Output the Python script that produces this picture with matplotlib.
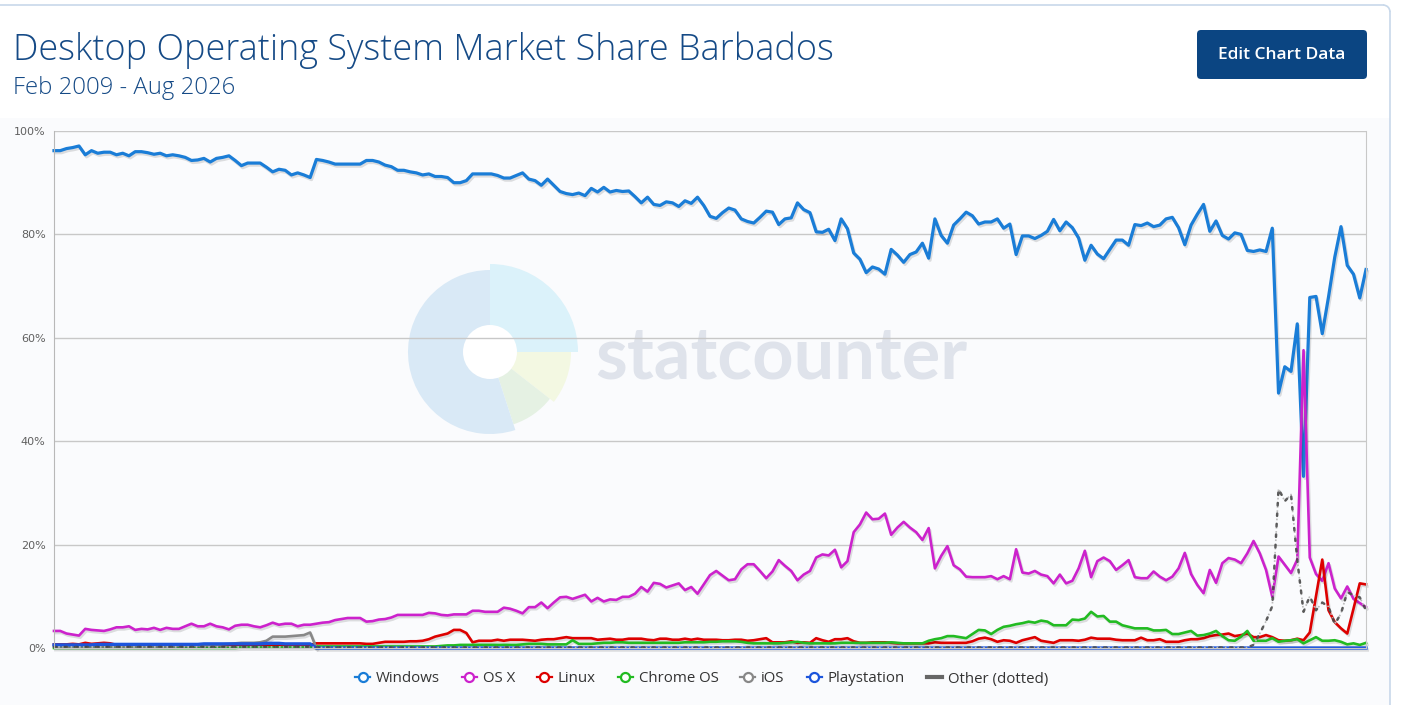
import numpy as np
import matplotlib
matplotlib.use("Agg")
import matplotlib.pyplot as plt
import matplotlib.patheffects as pe
from matplotlib.patches import Wedge, Circle, FancyBboxPatch, Rectangle, Arc
from matplotlib.lines import Line2D

# monthly share (%), Feb 2009 .. Aug 2026  (211 months)
windows = [
    96.2, 96.2, 96.6, 96.8, 97.1, 95.4, 96.2, 95.7, 95.9, 95.9,
    95.4, 95.7, 95.2, 96.0, 96.0, 95.8, 95.5, 95.7, 95.2, 95.4,
    95.2, 94.9, 94.3, 94.4, 94.7, 94.0, 94.7, 94.9, 95.2, 94.3,
    93.3, 93.8, 93.8, 93.8, 93.0, 92.1, 92.6, 92.4, 91.5, 91.9,
    91.5, 91.0, 94.5, 94.3, 94.0, 93.6, 93.6, 93.6, 93.6, 93.6,
    94.3, 94.3, 94.0, 93.4, 93.1, 92.4, 92.4, 92.1, 91.9, 91.5,
    91.7, 91.2, 91.2, 91.0, 90.0, 90.0, 90.4, 91.7, 91.7, 91.7,
    91.7, 91.4, 90.9, 90.9, 91.4, 91.9, 90.7, 90.4, 89.5, 90.7,
    89.5, 88.3, 87.9, 87.7, 88.0, 87.5, 88.9, 88.2, 89.1, 88.2,
    88.5, 88.3, 88.4, 87.3, 86.1, 87.2, 85.8, 85.6, 86.3, 86.1,
    85.4, 86.5, 86.0, 87.2, 85.6, 83.5, 83.1, 84.2, 85.1, 84.7,
    83.0, 82.5, 82.2, 83.3, 84.5, 84.3, 81.9, 83.0, 83.2, 86.1,
    84.8, 84.2, 80.5, 80.4, 81.0, 78.8, 83.0, 81.1, 76.4, 75.2,
    72.6, 73.7, 73.3, 72.3, 77.1, 76.0, 74.6, 76.1, 76.6, 78.3,
    75.4, 83.0, 79.8, 78.3, 81.8, 83.0, 84.3, 83.6, 82.0, 82.4,
    82.4, 83.0, 81.2, 82.0, 76.1, 79.7, 79.7, 79.2, 79.8, 80.6,
    82.9, 80.7, 82.4, 81.3, 79.3, 75.0, 77.9, 76.2, 75.3, 77.1,
    78.9, 78.9, 77.9, 81.9, 81.7, 82.2, 81.5, 81.8, 83.0, 83.3,
    81.3, 78.0, 81.8, 83.9, 85.8, 80.6, 82.6, 79.8, 79.1, 80.3,
    80.0, 76.9, 76.7, 77.0, 76.7, 81.2, 49.3, 54.4, 53.5, 62.7,
    33.2, 67.8, 68.0, 60.8, 67.9, 75.6, 81.5, 74.0, 72.3, 67.7,
    73.2,
]

osx = [
    3.3, 3.3, 2.8, 2.6, 2.4, 3.7, 3.5, 3.4, 3.3, 3.6,
    4.0, 4.0, 4.2, 3.5, 3.7, 3.6, 3.9, 3.5, 3.9, 3.7,
    3.7, 4.2, 4.7, 4.2, 4.2, 4.7, 4.2, 4.0, 3.6, 4.3,
    4.5, 4.5, 4.2, 4.0, 4.4, 4.9, 4.5, 4.7, 4.7, 4.2,
    4.5, 4.5, 4.7, 4.9, 5.0, 5.4, 5.6, 5.8, 5.8, 5.8,
    5.1, 5.2, 5.5, 5.6, 5.9, 6.4, 6.4, 6.4, 6.4, 6.4,
    6.8, 6.7, 6.4, 6.3, 6.5, 6.5, 6.5, 7.2, 7.2, 7.0,
    7.0, 7.0, 7.8, 7.6, 7.2, 6.7, 7.9, 7.9, 8.8, 7.7,
    8.8, 9.8, 9.9, 9.5, 9.9, 10.3, 9.0, 9.7, 9.0, 9.4,
    9.3, 9.9, 9.9, 10.5, 11.8, 10.9, 12.6, 12.4, 11.7, 12.1,
    12.5, 11.2, 11.8, 10.5, 12.3, 14.1, 14.9, 14.0, 13.1, 13.3,
    15.2, 16.2, 16.2, 14.9, 13.5, 14.8, 17.0, 15.9, 14.9, 13.1,
    14.2, 14.9, 17.5, 18.1, 17.9, 19.0, 15.6, 16.8, 22.4, 23.9,
    26.2, 24.9, 25.0, 26.0, 21.9, 23.3, 24.4, 23.3, 22.4, 20.9,
    23.2, 15.4, 17.8, 19.7, 16.0, 15.2, 13.8, 13.7, 13.7, 13.7,
    13.9, 13.3, 13.9, 13.3, 19.1, 14.6, 14.4, 14.9, 14.2, 13.9,
    12.5, 14.2, 12.5, 13.0, 15.4, 18.8, 13.7, 16.8, 17.5, 16.8,
    15.1, 16.0, 17.0, 13.7, 13.5, 13.5, 14.8, 13.8, 13.1, 13.8,
    15.4, 18.4, 14.3, 12.2, 10.6, 15.1, 12.6, 16.4, 17.4, 17.1,
    16.4, 18.3, 20.7, 18.3, 15.1, 9.9, 17.7, 16.1, 14.5, 17.1,
    57.6, 17.5, 14.3, 13.0, 16.4, 11.5, 9.6, 11.9, 9.5, 8.7,
    7.9,
]

linux = [
    0.7, 0.7, 0.7, 0.8, 0.7, 1.0, 0.8, 0.9, 1.0, 0.9,
    0.6, 0.6, 0.5, 0.6, 0.6, 0.6, 0.5, 0.6, 0.6, 0.6,
    0.5, 0.6, 0.6, 0.6, 0.5, 0.6, 0.6, 0.5, 0.6, 0.6,
    0.6, 0.5, 0.6, 0.6, 0.6, 0.5, 0.6, 0.6, 0.6, 0.5,
    0.6, 0.6, 0.9, 0.9, 0.9, 0.9, 0.9, 0.9, 0.9, 0.9,
    0.8, 0.8, 1.0, 1.2, 1.2, 1.2, 1.2, 1.3, 1.3, 1.4,
    1.7, 2.2, 2.5, 2.8, 3.5, 3.5, 2.9, 1.1, 1.4, 1.4,
    1.4, 1.6, 1.4, 1.6, 1.6, 1.6, 1.5, 1.4, 1.6, 1.7,
    1.7, 1.9, 2.1, 1.9, 1.9, 1.9, 1.9, 1.6, 1.7, 1.8,
    1.6, 1.6, 1.8, 1.8, 1.8, 1.6, 1.5, 1.8, 1.8, 1.6,
    1.6, 1.8, 1.6, 1.8, 1.6, 1.6, 1.6, 1.5, 1.5, 1.6,
    1.6, 1.4, 1.5, 1.7, 1.9, 1.1, 1.1, 1.1, 1.3, 1.0,
    1.1, 1.0, 1.9, 1.5, 1.2, 1.7, 1.7, 1.9, 1.3, 1.0,
    1.0, 1.1, 1.1, 1.1, 1.0, 0.9, 0.9, 0.9, 0.9, 0.9,
    0.9, 1.1, 1.0, 1.0, 1.0, 1.0, 1.0, 1.3, 1.8, 2.0,
    1.7, 1.2, 1.5, 1.4, 1.0, 1.5, 1.8, 2.1, 1.4, 1.2,
    1.0, 1.5, 1.5, 1.5, 1.4, 1.6, 2.0, 1.8, 1.8, 1.8,
    1.6, 1.5, 1.5, 1.5, 2.0, 1.5, 1.5, 1.7, 1.2, 1.2,
    1.2, 1.5, 1.7, 1.7, 1.9, 2.3, 2.5, 2.6, 2.8, 2.3,
    2.5, 2.8, 2.1, 2.1, 2.5, 2.1, 1.5, 1.4, 1.5, 1.8,
    1.5, 3.0, 10.0, 17.1, 7.3, 5.0, 3.8, 2.8, 7.6, 12.5,
    12.3,
]

chrome_os = [
    0.0, 0.0, 0.0, 0.0, 0.0, 0.0, 0.0, 0.0, 0.0, 0.0,
    0.0, 0.0, 0.0, 0.0, 0.0, 0.0, 0.0, 0.0, 0.0, 0.0,
    0.0, 0.0, 0.0, 0.0, 0.0, 0.0, 0.0, 0.0, 0.0, 0.0,
    0.1, 0.1, 0.1, 0.1, 0.1, 0.1, 0.1, 0.1, 0.1, 0.1,
    0.1, 0.1, 0.3, 0.3, 0.3, 0.3, 0.3, 0.3, 0.3, 0.3,
    0.3, 0.3, 0.3, 0.3, 0.3, 0.3, 0.3, 0.3, 0.3, 0.3,
    0.3, 0.3, 0.4, 0.5, 0.5, 0.6, 0.6, 0.6, 0.6, 0.6,
    0.6, 0.6, 0.6, 0.6, 0.6, 0.7, 0.8, 0.8, 0.8, 0.7,
    0.7, 0.7, 0.7, 1.5, 0.8, 0.8, 0.8, 0.9, 1.0, 1.0,
    1.1, 1.1, 1.0, 1.0, 1.0, 1.0, 1.0, 1.0, 1.0, 1.0,
    1.0, 1.1, 1.1, 1.1, 1.1, 1.2, 1.2, 1.3, 1.3, 1.3,
    1.2, 1.0, 0.9, 0.9, 0.9, 0.9, 0.9, 1.0, 1.1, 1.2,
    1.0, 0.9, 0.9, 0.9, 0.9, 0.9, 1.0, 1.0, 1.0, 1.0,
    1.0, 1.0, 1.0, 1.0, 1.1, 1.0, 0.9, 0.9, 0.9, 0.9,
    1.4, 1.7, 1.9, 2.3, 2.3, 2.1, 1.9, 2.7, 3.5, 3.4,
    2.7, 3.5, 4.1, 4.3, 4.6, 4.8, 5.1, 4.9, 5.3, 5.1,
    4.4, 4.4, 4.4, 5.5, 5.4, 5.7, 7.0, 6.1, 6.2, 5.1,
    5.1, 4.4, 4.1, 3.8, 3.8, 3.8, 3.4, 3.4, 3.5, 2.7,
    2.7, 3.0, 3.3, 2.4, 2.5, 2.8, 3.3, 2.3, 1.5, 1.4,
    2.2, 3.3, 1.4, 1.4, 1.4, 1.9, 1.2, 1.4, 1.5, 1.7,
    0.9, 1.5, 2.1, 1.4, 1.4, 1.5, 1.2, 0.7, 0.9, 0.6,
    1.0,
]

ios = [
    0.3, 0.3, 0.3, 0.3, 0.3, 0.3, 0.3, 0.3, 0.3, 0.3,
    0.3, 0.3, 0.3, 0.3, 0.3, 0.3, 0.3, 0.3, 0.3, 0.3,
    0.4, 0.4, 0.4, 0.4, 0.5, 0.5, 0.6, 0.7, 0.8, 0.9,
    1.0, 1.0, 1.0, 1.1, 1.4, 2.2, 2.2, 2.2, 2.3, 2.4,
    2.5, 3.0, 0.0,
]

playstation = [
    0.6, 0.6, 0.6, 0.6, 0.6, 0.6, 0.6, 0.7, 0.7, 0.7,
    0.7, 0.7, 0.7, 0.7, 0.7, 0.7, 0.7, 0.7, 0.7, 0.7,
    0.7, 0.7, 0.7, 0.7, 0.8, 0.8, 0.8, 0.8, 0.8, 0.8,
    0.8, 0.8, 0.8, 0.8, 0.9, 0.9, 0.9, 0.8, 0.8, 0.8,
    0.8, 0.8, 0.0, 0.0, 0.0, 0.0, 0.0, 0.0, 0.0, 0.0,
    0.0, 0.0, 0.0, 0.0, 0.0, 0.0, 0.0, 0.0, 0.0, 0.0,
    0.0, 0.0, 0.0, 0.0, 0.0, 0.0, 0.0, 0.0, 0.0, 0.0,
    0.0, 0.0, 0.0, 0.0, 0.0, 0.0, 0.0, 0.0, 0.0, 0.0,
    0.0, 0.0, 0.0, 0.0, 0.0, 0.0, 0.0, 0.0, 0.0, 0.0,
    0.0, 0.0, 0.0, 0.0, 0.0, 0.0, 0.0, 0.0, 0.0, 0.0,
    0.0, 0.0, 0.0, 0.0, 0.0, 0.0, 0.0, 0.0, 0.0, 0.0,
    0.0, 0.0, 0.0, 0.0, 0.0, 0.0, 0.0, 0.0, 0.0, 0.0,
    0.0, 0.0, 0.0, 0.0, 0.0, 0.0, 0.0, 0.0, 0.0, 0.0,
    0.0, 0.0, 0.0, 0.0, 0.0, 0.0, 0.0, 0.0, 0.0, 0.0,
    0.0, 0.0, 0.0, 0.0, 0.0, 0.0, 0.0, 0.0, 0.0, 0.0,
    0.0, 0.0, 0.0, 0.0, 0.0, 0.0, 0.0, 0.0, 0.0, 0.0,
    0.0, 0.0, 0.0, 0.0, 0.0, 0.0, 0.0, 0.0, 0.0, 0.0,
    0.0, 0.0, 0.0, 0.0, 0.0, 0.0, 0.0, 0.0, 0.0, 0.0,
    0.0, 0.0, 0.0, 0.0, 0.0, 0.0, 0.0, 0.0, 0.0, 0.0,
    0.0, 0.0, 0.0, 0.0, 0.0, 0.0, 0.0, 0.0, 0.0, 0.0,
    0.0, 0.0, 0.0, 0.0, 0.0, 0.0, 0.0, 0.0, 0.0, 0.0,
    0.0,
]

other = [
    0.2, 0.2, 0.2, 0.2, 0.2, 0.2, 0.2, 0.2, 0.2, 0.2,
    0.2, 0.2, 0.2, 0.2, 0.2, 0.2, 0.2, 0.2, 0.2, 0.2,
    0.2, 0.2, 0.2, 0.2, 0.2, 0.2, 0.2, 0.2, 0.2, 0.2,
    0.2, 0.2, 0.2, 0.2, 0.2, 0.2, 0.2, 0.2, 0.2, 0.2,
    0.2, 0.2, 0.1, 0.1, 0.1, 0.1, 0.1, 0.1, 0.1, 0.1,
    0.1, 0.1, 0.1, 0.1, 0.1, 0.1, 0.1, 0.1, 0.1, 0.1,
    0.1, 0.1, 0.1, 0.1, 0.1, 0.1, 0.1, 0.1, 0.1, 0.1,
    0.1, 0.1, 0.1, 0.1, 0.1, 0.1, 0.1, 0.1, 0.1, 0.1,
    0.1, 0.1, 0.1, 0.1, 0.1, 0.1, 0.1, 0.1, 0.1, 0.1,
    0.1, 0.1, 0.1, 0.1, 0.1, 0.1, 0.1, 0.1, 0.1, 0.1,
    0.1, 0.1, 0.1, 0.1, 0.1, 0.1, 0.1, 0.1, 0.1, 0.1,
    0.1, 0.1, 0.1, 0.1, 0.1, 0.1, 0.1, 0.1, 0.1, 0.1,
    0.1, 0.1, 0.1, 0.1, 0.1, 0.1, 0.1, 0.1, 0.1, 0.1,
    0.1, 0.1, 0.1, 0.1, 0.1, 0.1, 0.1, 0.1, 0.1, 0.1,
    0.1, 0.1, 0.1, 0.1, 0.1, 0.1, 0.1, 0.1, 0.1, 0.1,
    0.1, 0.1, 0.1, 0.1, 0.1, 0.1, 0.1, 0.1, 0.1, 0.1,
    0.1, 0.1, 0.1, 0.1, 0.1, 0.1, 0.1, 0.1, 0.1, 0.1,
    0.1, 0.1, 0.1, 0.1, 0.1, 0.1, 0.1, 0.1, 0.1, 0.1,
    0.1, 0.1, 0.1, 0.1, 0.1, 0.1, 0.1, 0.1, 0.1, 0.1,
    0.1, 0.1, 0.6, 2.8, 5.2, 8.1, 30.8, 28.4, 29.7, 17.0,
    7.0, 10.0, 7.3, 8.8, 8.0, 4.6, 6.7, 10.8, 10.2, 9.8,
    7.3,
]

series_names = ["Windows", "OS X", "Linux", "Chrome OS", "iOS", "Playstation", "Other (dotted)"]
colors = ["#1a7dd7", "#cc22cc", "#dd0000", "#22bb22", "#888888", "#1c55dc", "#555555"]
y_ticks = [0, 20, 40, 60, 80, 100]

W, H = 1403, 705
fig = plt.figure(figsize=(W / 100, H / 100), dpi=100)
fig.patch.set_facecolor("white")

# background layer in pixel coordinates (y measured from the top)
bg = fig.add_axes([0, 0, 1, 1], zorder=0)
bg.set_xlim(0, W)
bg.set_ylim(0, H)
bg.axis("off")
py = lambda y: H - y

bg.add_patch(Rectangle((0, 0), 1390, py(118), color="#fafbfd", lw=0))
bg.plot([0, 1383], [py(5), py(5)], color="#c8d8ea", lw=1.2)
bg.plot([1390, 1390], [py(12), 0], color="#c8d8ea", lw=1.2)
bg.add_patch(Arc((1383, py(12)), 14, 14, theta1=0, theta2=90, color="#c8d8ea", lw=1.2))

# faint statcounter watermark
cx, cy = 490, py(352)
bg.add_patch(Wedge((cx, cy), 88, 0, 90, color="#dbf2fa", lw=0))
bg.add_patch(Wedge((cx, cy), 81, -38, 0, color="#f3f8e2", lw=0))
bg.add_patch(Wedge((cx, cy), 76, -72, -38, color="#e5f1e3", lw=0))
bg.add_patch(Wedge((cx, cy), 82, 90, 288, color="#d9e9f6", lw=0))
bg.add_patch(Circle((cx, cy), 27, color="white", lw=0))
bg.text(595, py(358), "statcounter", fontsize=52, fontweight="bold",
        family="Lato", color="#dfe3eb", va="center", ha="left")

# header
fig.text(13 / W, 1 - 50 / H, "Desktop Operating System Market Share Barbados",
         fontsize=25.9, color="#154a86", family="Open Sans", fontweight="light",
         va="center", ha="left")
fig.text(13 / W, 1 - 88 / H, "Feb 2009 - Aug 2026", fontsize=17.2, color="#154a86",
         family="Open Sans", fontweight="light", va="center", ha="left")
bg.add_patch(FancyBboxPatch((1197, py(79)), 170, 49,
                            boxstyle="round,pad=0,rounding_size=4",
                            color="#0b4582", lw=0))
bg.text(1282, py(55), "Edit Chart Data", fontsize=12.5, color="white",
        family="Open Sans", fontweight="semibold", va="center", ha="center")

# chart
ax = fig.add_axes([54 / W, 57 / H, (1366 - 54) / W, (648 - 131) / H], zorder=2)
ax.patch.set_alpha(0)
months = np.arange(len(windows))
shadow = [pe.SimpleLineShadow(offset=(1, -1.5), shadow_color="black", alpha=0.12),
          pe.Normal()]

data = [windows, osx, linux, chrome_os, ios, playstation]
widths = [2.3, 1.9, 1.9, 1.9, 1.9, 2.4]
for vals, col, lw in zip(data, colors, widths):
    xs = months[:len(vals)]
    ax.plot(xs, vals, color=col, lw=lw, solid_joinstyle="round", clip_on=False,
            path_effects=shadow)
ax.plot(months, other, color="#bbbbbb", lw=1.2, ls=(0, (1, 1.5)), clip_on=False)
ax.plot(months, other, color="#444444", lw=1.8, ls=(0, (1, 3.2)),
        dash_capstyle="round", clip_on=False, alpha=0.85)

ax.set_xlim(0, len(windows) - 1)
ax.set_ylim(0, 100)
ax.set_xticks([])
ax.set_yticks(y_ticks)
ax.set_yticklabels([f"{v}%" for v in y_ticks])
ax.tick_params(axis="y", length=0, pad=6, labelsize=8, labelcolor="#606060")
ax.yaxis.grid(True, color="#c8c8c8", lw=1)
ax.set_axisbelow(True)
ax.spines["top"].set_visible(False)
ax.spines["left"].set_color("#b8b8b8")
ax.spines["right"].set_color("#c8c8c8")
ax.spines["bottom"].set_color("#c8c8c8")

handles = []
for name, col in zip(series_names[:-1], colors[:-1]):
    handles.append(Line2D([], [], color=col, lw=1.6, marker="o", markersize=6.5,
                          markerfacecolor="white", markeredgewidth=1.6))
handles.append(Line2D([], [], color="#666666", lw=3))
fig.legend(handles, series_names, loc="center", bbox_to_anchor=(0.5, 1 - 679 / H),
           ncol=7, frameon=False, handlelength=1.0, handletextpad=0.4,
           columnspacing=1.45, labelcolor="#333333",
           prop={"family": "Open Sans", "size": 10.8})

fig.savefig("out.png", dpi=100, facecolor=fig.get_facecolor())
